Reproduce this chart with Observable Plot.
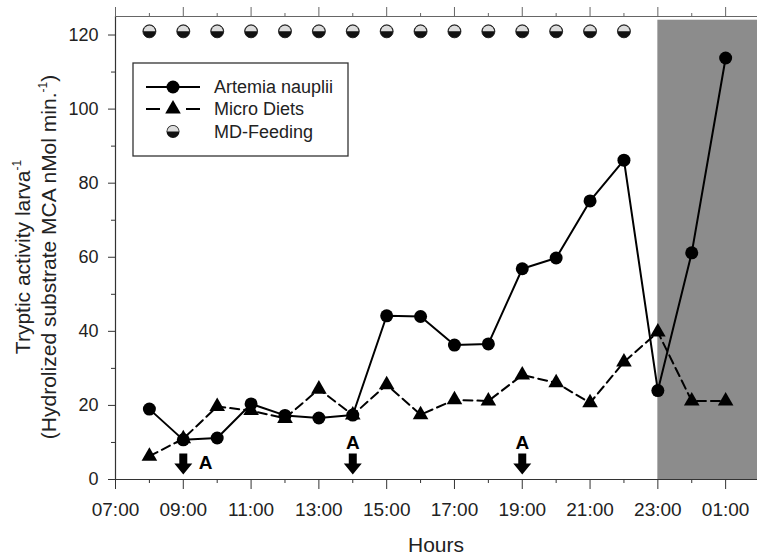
<!DOCTYPE html>
<html><head><meta charset="utf-8">
<script src="https://cdn.jsdelivr.net/npm/d3@7"></script>
<script src="https://cdn.jsdelivr.net/npm/@observablehq/plot@0.6"></script>
<style>body{margin:0;background:#fff;} #chart{width:757px;height:557px;}</style>
</head><body><div id="chart"></div>
<script>
// ---- data ----
const hours = [8, 9, 10, 11, 12, 13, 14, 15, 16, 17, 18, 19, 20, 21, 22, 23, 24, 25];
const artemia = [19, 10.7, 11.2, 20.4, 17.3, 16.6, 17.4, 44.2, 44, 36.3, 36.6, 56.9, 59.8, 75.2, 86.2, 24, 61.2, 113.8];
const microDiets = [6.3, 11, 19.7, 18.6, 16.5, 24.4, 17.4, 25.6, 17.5, 21.5, 21.2, 28.2, 26.1, 20.7, 31.7, 39.8, 21.2, 21.2];
const feedingHours = [8, 9, 10, 11, 12, 13, 14, 15, 16, 17, 18, 19, 20, 21, 22];
const feedingLevel = 121;
const arrowHours = [9, 14, 19];
const arrowLevel = 4.3;
const aLabelHours = [9.66, 14, 19];
const aLabelLevels = [4.6, 10, 10];
const majorHours = [7, 9, 11, 13, 15, 17, 19, 21, 23, 25];
const minorHours = [8, 10, 12, 14, 16, 18, 20, 22, 24];
const majorY = [0, 20, 40, 60, 80, 100, 120];
const minorY = [10, 30, 50, 70, 90, 110];
const nightStart = 23;
const xMax = 25.94;
const yMax = 125;
const shadeTop = 124;

const fmtHour = h => String(h % 24).padStart(2, "0") + ":00";
const artemiaData = hours.map((h, i) => ({h, v: artemia[i]}));
const microData = hours.map((h, i) => ({h, v: microDiets[i]}));
const feedData = feedingHours.map(h => ({h, v: feedingLevel}));
const arrowData = arrowHours.map(h => ({h, v: arrowLevel}));
const aData = aLabelHours.map((h, i) => ({h, v: aLabelLevels[i], t: "A"}));
const shade = [{x1: nightStart, x2: xMax, y1: 0, y2: shadeTop}];

const halfTop = {draw(ctx, size) { const r = Math.sqrt(size / Math.PI); ctx.moveTo(r, 0); ctx.arc(0, 0, r, 0, Math.PI, true); ctx.closePath(); }};
const arrowDown = {draw(ctx, size) { const s = Math.sqrt(size / Math.PI) / 10;
  ctx.moveTo(-4*s, -10*s); ctx.lineTo(4*s, -10*s); ctx.lineTo(4*s, 0); ctx.lineTo(9*s, 0);
  ctx.lineTo(0, 11*s); ctx.lineTo(-9*s, 0); ctx.lineTo(-4*s, 0); ctx.closePath(); }};
const axisColor = "#333";

const plot = Plot.plot({
  width: 757, height: 557,
  marginLeft: 115, marginRight: 0, marginTop: 16, marginBottom: 78,
  style: {fontFamily: "'Liberation Sans', Arial, sans-serif", fontSize: "18px", color: "#222", background: "#fff", overflow: "visible"},
  x: {domain: [7, xMax]},
  y: {domain: [0, yMax]},
  marks: [
    Plot.rect(shade, {x1: "x1", x2: "x2", y1: "y1", y2: "y2", fill: "#8c8c8c"}),
    Plot.ruleY([0], {stroke: axisColor, strokeWidth: 1.2}),
    Plot.ruleY([yMax], {stroke: "#666", strokeWidth: 1.2}),
    Plot.ruleX([7], {stroke: axisColor, strokeWidth: 1.2}),
    Plot.ruleX([xMax], {stroke: "#bbb", strokeWidth: 1}),
    Plot.axisX({anchor: "bottom", ticks: majorHours, tickSize: 10, tickPadding: 13, tickFormat: fmtHour, label: null, stroke: axisColor, fontSize: 19}),
    Plot.axisX({anchor: "bottom", ticks: minorHours, tickSize: 4, tickFormat: () => "", label: null, stroke: axisColor}),
    Plot.axisX({anchor: "top", ticks: majorHours, tickSize: 10, tickFormat: () => "", label: null, stroke: "#666"}),
    Plot.axisX({anchor: "top", ticks: minorHours, tickSize: 4, tickFormat: () => "", label: null, stroke: "#666"}),
    Plot.axisY({ticks: majorY, tickSize: 7, tickPadding: 10, label: null, stroke: axisColor}),
    Plot.axisY({ticks: minorY, tickSize: 4, tickFormat: () => "", label: null, stroke: axisColor}),
    Plot.line(microData, {x: "h", y: "v", stroke: "#000", strokeWidth: 2, strokeDasharray: "9,5"}),
    Plot.dot(microData, {x: "h", y: "v", symbol: "triangle", r: 5.8, fill: "#000"}),
    Plot.line(artemiaData, {x: "h", y: "v", stroke: "#000", strokeWidth: 2}),
    Plot.dot(artemiaData, {x: "h", y: "v", r: 6.5, fill: "#000"}),
    Plot.dot(feedData, {x: "h", y: "v", r: 6.5, fill: "#111", stroke: "#111", strokeWidth: 0.8}),
    Plot.dot(feedData, {x: "h", y: "v", symbol: halfTop, r: 5.8, fill: "#dcdcdc"}),
    Plot.dot(arrowData, {x: "h", y: "v", symbol: arrowDown, r: 10, fill: "#000"}),
    Plot.text(aData, {x: "h", y: "v", text: "t", fontWeight: "bold", fontSize: 19, fill: "#000"})
  ]
});
document.getElementById("chart").appendChild(plot);

const svg = d3.select(plot);
const ff = "'Liberation Sans', Arial, sans-serif";
// x axis title
svg.append("text").attr("x", 436).attr("y", 552).attr("text-anchor", "middle")
  .attr("font-family", ff).attr("font-size", 21).attr("fill", "#222").text("Hours");
// y axis title
const yt = svg.append("g").attr("transform", "translate(0,257) rotate(-90)")
  .attr("font-family", ff).attr("font-size", 21).attr("fill", "#222").attr("text-anchor", "middle");
const t1 = yt.append("text").attr("x", 0).attr("y", 30);
t1.append("tspan").text("Tryptic activity larva");
t1.append("tspan").attr("font-size", 12).attr("dy", -9).text("-1");
const t2 = yt.append("text").attr("x", 0).attr("y", 56);
t2.append("tspan").text("(Hydrolized substrate MCA nMol min.");
t2.append("tspan").attr("font-size", 12).attr("dy", -9).text("-1");
t2.append("tspan").attr("dy", 9).text(")");

// legend
const lg = svg.append("g").attr("font-family", ff).attr("font-size", 18).attr("fill", "#222").attr("text-anchor", "start");
lg.append("rect").attr("x", 133).attr("y", 63).attr("width", 215).attr("height", 93)
  .attr("fill", "#fff").attr("stroke", "#333").attr("stroke-width", 1.3);
const rows = [
  {label: "Artemia nauplii", y: 87},
  {label: "Micro Diets", y: 109},
  {label: "MD-Feeding", y: 131.5}
];
lg.append("line").attr("x1", 146).attr("x2", 200).attr("y1", rows[0].y).attr("y2", rows[0].y).attr("stroke", "#000").attr("stroke-width", 2);
lg.append("circle").attr("cx", 173).attr("cy", rows[0].y).attr("r", 6.5).attr("fill", "#000");
lg.append("line").attr("x1", 146).attr("x2", 200).attr("y1", rows[1].y).attr("y2", rows[1].y).attr("stroke", "#000").attr("stroke-width", 2).attr("stroke-dasharray", "14,26");
lg.append("path").attr("transform", `translate(173,${rows[1].y})`).attr("d", d3.symbol(d3.symbolTriangle, 5.8*5.8*Math.PI)()).attr("fill", "#000");
lg.append("circle").attr("cx", 173).attr("cy", rows[2].y).attr("r", 6.5).attr("fill", "#111");
lg.append("path").attr("transform", `translate(173,${rows[2].y})`).attr("d", "M5.8,0A5.8,5.8,0,0,0,-5.8,0Z").attr("fill", "#dcdcdc");
rows.forEach(r => lg.append("text").attr("x", 214).attr("y", r.y).attr("dy", "0.35em").text(r.label));
</script>
</body></html>
